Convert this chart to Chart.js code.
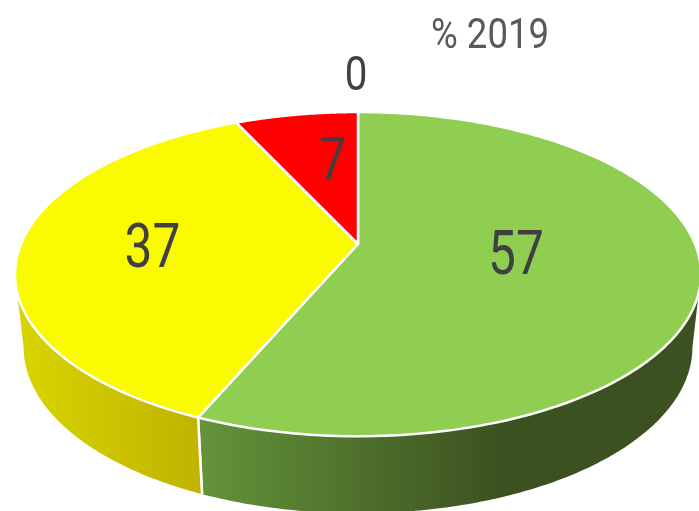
<!DOCTYPE html>
<html><head><meta charset="utf-8">
<style>html,body{margin:0;padding:0;background:#fff;overflow:hidden}canvas{display:block}</style>
<script src="https://cdn.jsdelivr.net/npm/chart.js@4"></script></head>
<body><canvas id="c" width="699" height="511"></canvas>
<script>
const categories = ["Verde", "Giallo", "Rosso", "Altro"];
const values = [57, 37, 7, 0];
const topColors = ["#8FCE50", "#FAFA00", "#FF0000", "#FFC000"];
const chartTitle = "% 2019";

// view of the tilted disc
const view = {cx:358, cy:244, rx:337, by:156.5, a:0.186, wallDy:73, ellCy:274, wallSx:0.975, wallSy:1.025};
const wallGrad = [
  {x0:197,x1:500,c0:"#64943A",c1:"#3C5120"},
  {x0:20,x1:197,c0:"#D8D400",c1:"#C0B400"}
];
const labelStyle = [
  {f:0.47,dx:0,dy:-7,size:62,sx:0.80},
  {f:0.60,dx:-3,dy:0,size:62,sx:0.80},
  {f:0.63,dx:16,dy:0,size:60,sx:0.80},
  {f:1.37,dx:-2,dy:0,size:48,sx:0.84}
];
function rim(t,f=1){
  const u=Math.cos(t)*f, v=Math.sin(t)*f, w=1-view.a*v;
  return [view.cx+view.rx*u/w, view.cy+view.by*v/w];
}
function wallPt(p){
  return [view.cx+(p[0]-view.cx)*view.wallSx, view.ellCy+view.wallDy+(p[1]-view.ellCy)*view.wallSy];
}
const disc3d = {
  id:'disc3d',
  beforeDatasetDraw(chart,args){
    const ctx=chart.ctx, arcs=chart.getDatasetMeta(0).data;
    const colors=chart.data.datasets[0].backgroundColor;
    const tMin=Math.asin(view.a), tMax=Math.PI-tMin, N=160;
    // side wall
    arcs.forEach((el,i)=>{
      const s=Math.max(el.startAngle,tMin), e=Math.min(el.endAngle,tMax);
      if(e<=s) return;
      const g=wallGrad[i]; if(!g) return;
      const lg=ctx.createLinearGradient(g.x0,0,g.x1,0);
      lg.addColorStop(0,g.c0); lg.addColorStop(1,g.c1);
      const pts=[]; for(let k=0;k<=N;k++) pts.push(rim(s+(e-s)*k/N));
      ctx.beginPath();
      pts.forEach((p,k)=>k?ctx.lineTo(p[0],p[1]):ctx.moveTo(p[0],p[1]));
      for(let k=N;k>=0;k--){const q=wallPt(pts[k]);ctx.lineTo(q[0],q[1]);}
      ctx.closePath(); ctx.fillStyle=lg; ctx.fill();
      // separators on the wall
      [s,e].forEach(t=>{
        if(t===tMin||t===tMax) return;
        const p=rim(t),q=wallPt(p);
        ctx.beginPath();ctx.moveTo(p[0],p[1]);ctx.lineTo(q[0],q[1]);
        ctx.strokeStyle="#fff";ctx.lineWidth=2.5;ctx.stroke();
      });
    });
    // top face
    arcs.forEach((el,i)=>{
      if(el.endAngle-el.startAngle<=1e-6) return;
      ctx.beginPath(); ctx.moveTo(view.cx,view.cy);
      for(let k=0;k<=N;k++){const p=rim(el.startAngle+(el.endAngle-el.startAngle)*k/N);ctx.lineTo(p[0],p[1]);}
      ctx.closePath(); ctx.fillStyle=colors[i]; ctx.fill();
      ctx.strokeStyle="#fff";ctx.lineWidth=2.5;ctx.lineJoin='round';ctx.stroke();
    });
    return false;
  },
  afterDatasetsDraw(chart){
    const ctx=chart.ctx, arcs=chart.getDatasetMeta(0).data;
    const txt=(s,x,y,size,col,sx)=>{
      ctx.save();ctx.translate(x,y);ctx.scale(sx,1);
      ctx.font=size+'px Roboto';ctx.textAlign='center';ctx.textBaseline='alphabetic';
      ctx.fillStyle=col;ctx.fillText(s,0,size*0.355);ctx.restore();
    };
    arcs.forEach((el,i)=>{
      const st=labelStyle[i];
      const p=rim((el.startAngle+el.endAngle)/2,st.f);
      txt(String(values[i]),p[0]+st.dx,p[1]+st.dy,st.size,"#404040",st.sx);
    });
    txt(chartTitle,490,33,42,"#595959",0.87);
  }
};
new Chart(document.getElementById('c'),{
  type:'pie',
  data:{labels:categories,datasets:[{data:values,backgroundColor:topColors,borderWidth:0}]},
  options:{responsive:false,animation:false,plugins:{legend:{display:false},tooltip:{enabled:false}}},
  plugins:[disc3d]
});
</script></body></html>
